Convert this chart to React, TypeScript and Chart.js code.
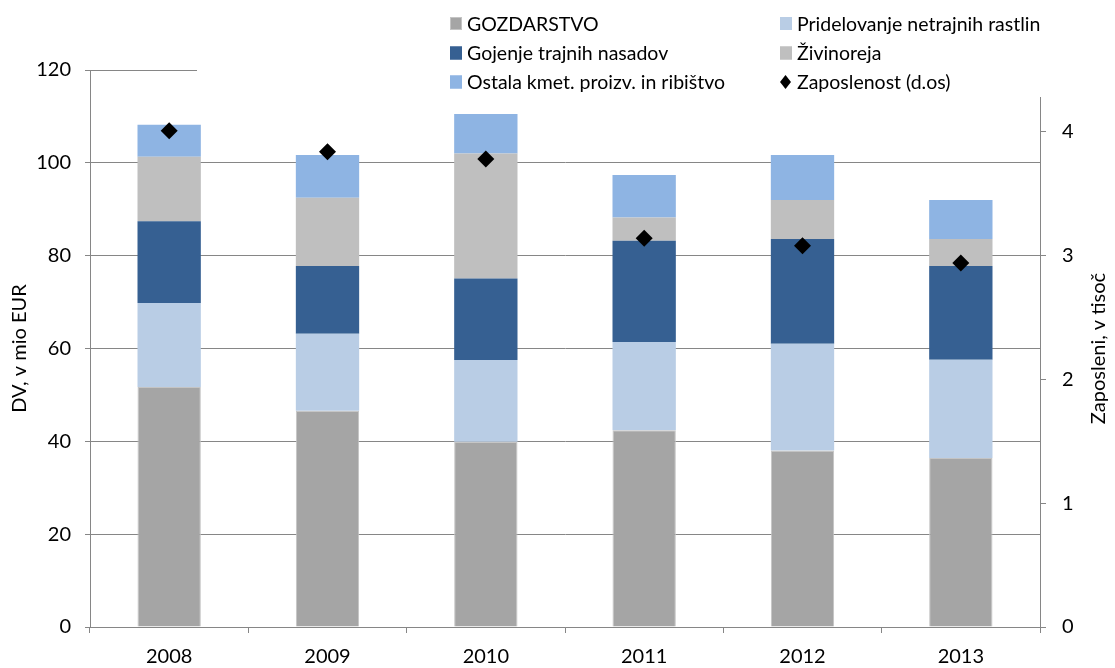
import React, { useEffect, useRef } from 'react';
import { Chart, registerables } from 'chart.js';

Chart.register(...registerables);

const years = ['2008', '2009', '2010', '2011', '2012', '2013'];
const gozdarstvo = [51.7, 46.6, 39.9, 42.4, 38.0, 36.4];
const pridelovanje = [18.1, 16.6, 17.6, 19.0, 23.0, 21.2];
const gojenje = [17.6, 14.6, 17.6, 21.8, 22.6, 20.2];
const zivinoreja = [13.9, 14.7, 26.9, 5.0, 8.4, 5.8];
const ostala = [6.9, 9.2, 8.5, 9.2, 9.7, 8.4];
const zaposlenost = [4.01, 3.84, 3.78, 3.14, 3.08, 2.94];
const leftTicks = [0, 20, 40, 60, 80, 100, 120];
const rightTicks = [0, 1, 2, 3, 4];

const leftTitle = 'DV, v mio EUR';
const rightTitle = 'Zaposleni, v tisoč';

const FONT = 'Lato';
const FS = 20;
const LEGEND_FS = 19.5;
const GRID = '#868686';

const legendItems = [
  { label: 'GOZDARSTVO', color: '#A5A5A5', border: '#C4C4C4', col: 0, row: 0, kind: 'box' },
  { label: 'Pridelovanje netrajnih rastlin', color: '#B9CDE5', border: '#B9CDE5', col: 1, row: 0, kind: 'box' },
  { label: 'Gojenje trajnih nasadov', color: '#366092', border: '#366092', col: 0, row: 1, kind: 'box' },
  { label: 'Živinoreja', color: '#BFBFBF', border: '#BFBFBF', col: 1, row: 1, kind: 'box' },
  { label: 'Ostala kmet. proizv. in ribištvo', color: '#8EB4E3', border: '#8EB4E3', col: 0, row: 2, kind: 'box' },
  { label: 'Zaposlenost (d.os)', color: '#000000', border: '#000000', col: 1, row: 2, kind: 'diamond' },
];

const overlayPlugin = {
  id: 'overlay',
  afterDraw(chart: any) {
    const ctx = chart.ctx as CanvasRenderingContext2D;
    ctx.save();
    ctx.fillStyle = '#ffffff';
    ctx.fillRect(197, 0, 870, 97);
    const colX = [450, 780];
    const rowY = [23.5, 53, 82];
    ctx.font = `${LEGEND_FS}px ${FONT}`;
    ctx.textBaseline = 'middle';
    ctx.textAlign = 'left';
    legendItems.forEach((it) => {
      const x = colX[it.col];
      const y = rowY[it.row];
      if (it.kind === 'box') {
        ctx.fillStyle = it.color;
        ctx.fillRect(x, y - 6.5, 12, 13);
        ctx.strokeStyle = it.border;
        ctx.lineWidth = 1;
        ctx.strokeRect(x + 0.5, y - 6, 11, 12);
      } else {
        ctx.fillStyle = it.color;
        ctx.beginPath();
        ctx.moveTo(x + 5.5, y - 7);
        ctx.lineTo(x + 11, y);
        ctx.lineTo(x + 5.5, y + 7);
        ctx.lineTo(x, y);
        ctx.closePath();
        ctx.fill();
      }
      ctx.fillStyle = '#000000';
      ctx.fillText(it.label, x + 17, y + 1);
    });
    const area = chart.chartArea;
    const midY = (area.top + area.bottom) / 2;
    ctx.font = `${FS}px ${FONT}`;
    ctx.textAlign = 'center';
    ctx.fillStyle = '#000000';
    ctx.save();
    ctx.translate(19.5, midY);
    ctx.rotate(-Math.PI / 2);
    ctx.fillText(leftTitle, 0, 0);
    ctx.restore();
    ctx.save();
    ctx.translate(1098.5, midY);
    ctx.rotate(-Math.PI / 2);
    ctx.fillText(rightTitle, 0, 0);
    ctx.restore();
    ctx.restore();
  },
};

export default function App() {
  const ref = useRef<HTMLCanvasElement>(null);
  useEffect(() => {
    document.body.style.margin = '0';
    Chart.defaults.font.family = FONT;
    Chart.defaults.font.size = FS;
    Chart.defaults.color = '#000000';
    const barCommon = { categoryPercentage: 1, barPercentage: 0.4, yAxisID: 'y', order: 1, stack: 's' };
    const chart = new Chart(ref.current as HTMLCanvasElement, {
      type: 'bar',
      data: {
        labels: years,
        datasets: [
          { ...barCommon, label: 'GOZDARSTVO', data: gozdarstvo, backgroundColor: '#A5A5A5', borderColor: '#C4C4C4', borderWidth: 1 },
          { ...barCommon, label: 'Pridelovanje netrajnih rastlin', data: pridelovanje, backgroundColor: '#B9CDE5', borderWidth: 0 },
          { ...barCommon, label: 'Gojenje trajnih nasadov', data: gojenje, backgroundColor: '#366092', borderWidth: 0 },
          { ...barCommon, label: 'Živinoreja', data: zivinoreja, backgroundColor: '#BFBFBF', borderWidth: 0 },
          { ...barCommon, label: 'Ostala kmet. proizv. in ribištvo', data: ostala, backgroundColor: '#8EB4E3', borderWidth: 0 },
          {
            type: 'line',
            label: 'Zaposlenost (d.os)',
            data: zaposlenost,
            yAxisID: 'y1',
            order: 0,
            showLine: false,
            pointStyle: 'rectRot',
            pointRadius: 8.5,
            pointHoverRadius: 8.5,
            pointBackgroundColor: '#000000',
            pointBorderColor: '#000000',
            pointBorderWidth: 0,
            backgroundColor: '#000000',
            borderColor: '#000000',
          } as any,
        ],
      },
      options: {
        responsive: false,
        animation: false,
        events: [],
        layout: { padding: { top: 70, left: 0, right: 0, bottom: 0 } },
        plugins: { legend: { display: false }, tooltip: { enabled: false }, title: { display: false } },
        scales: {
          x: {
            stacked: true,
            offset: true,
            grid: { display: true, drawOnChartArea: false, drawTicks: true, tickLength: 6, color: GRID, offset: true },
            border: { display: true, color: GRID, width: 1 },
            ticks: { padding: 12, font: { size: FS, family: FONT }, color: '#000', maxRotation: 0 },
            afterFit: (s: any) => { s.height = 41; },
          },
          y: {
            type: 'linear',
            position: 'left',
            stacked: true,
            min: 0,
            max: 120,
            grid: { color: GRID, lineWidth: 1, drawTicks: true, tickLength: 5 },
            border: { display: true, color: GRID, width: 1 },
            ticks: { padding: 14, font: { size: FS, family: FONT }, color: '#000' },
            afterBuildTicks: (s: any) => { s.ticks = leftTicks.map((v) => ({ value: v })); },
            afterFit: (s: any) => { s.width = 90; },
          },
          y1: {
            type: 'linear',
            position: 'right',
            stacked: false,
            min: 0,
            max: 4.5,
            grid: { drawOnChartArea: false, drawTicks: true, tickLength: 6, color: GRID },
            border: { display: true, color: GRID, width: 1 },
            ticks: { padding: 16, font: { size: FS, family: FONT }, color: '#000' },
            afterBuildTicks: (s: any) => { s.ticks = rightTicks.map((v) => ({ value: v })); },
            afterFit: (s: any) => { s.width = 75; },
          },
        },
      } as any,
      plugins: [overlayPlugin],
    });
    return () => chart.destroy();
  }, []);
  return (
    <canvas
      ref={ref}
      width={1115}
      height={668}
      style={{ display: 'block', width: '1115px', height: '668px' }}
    />
  );
}
